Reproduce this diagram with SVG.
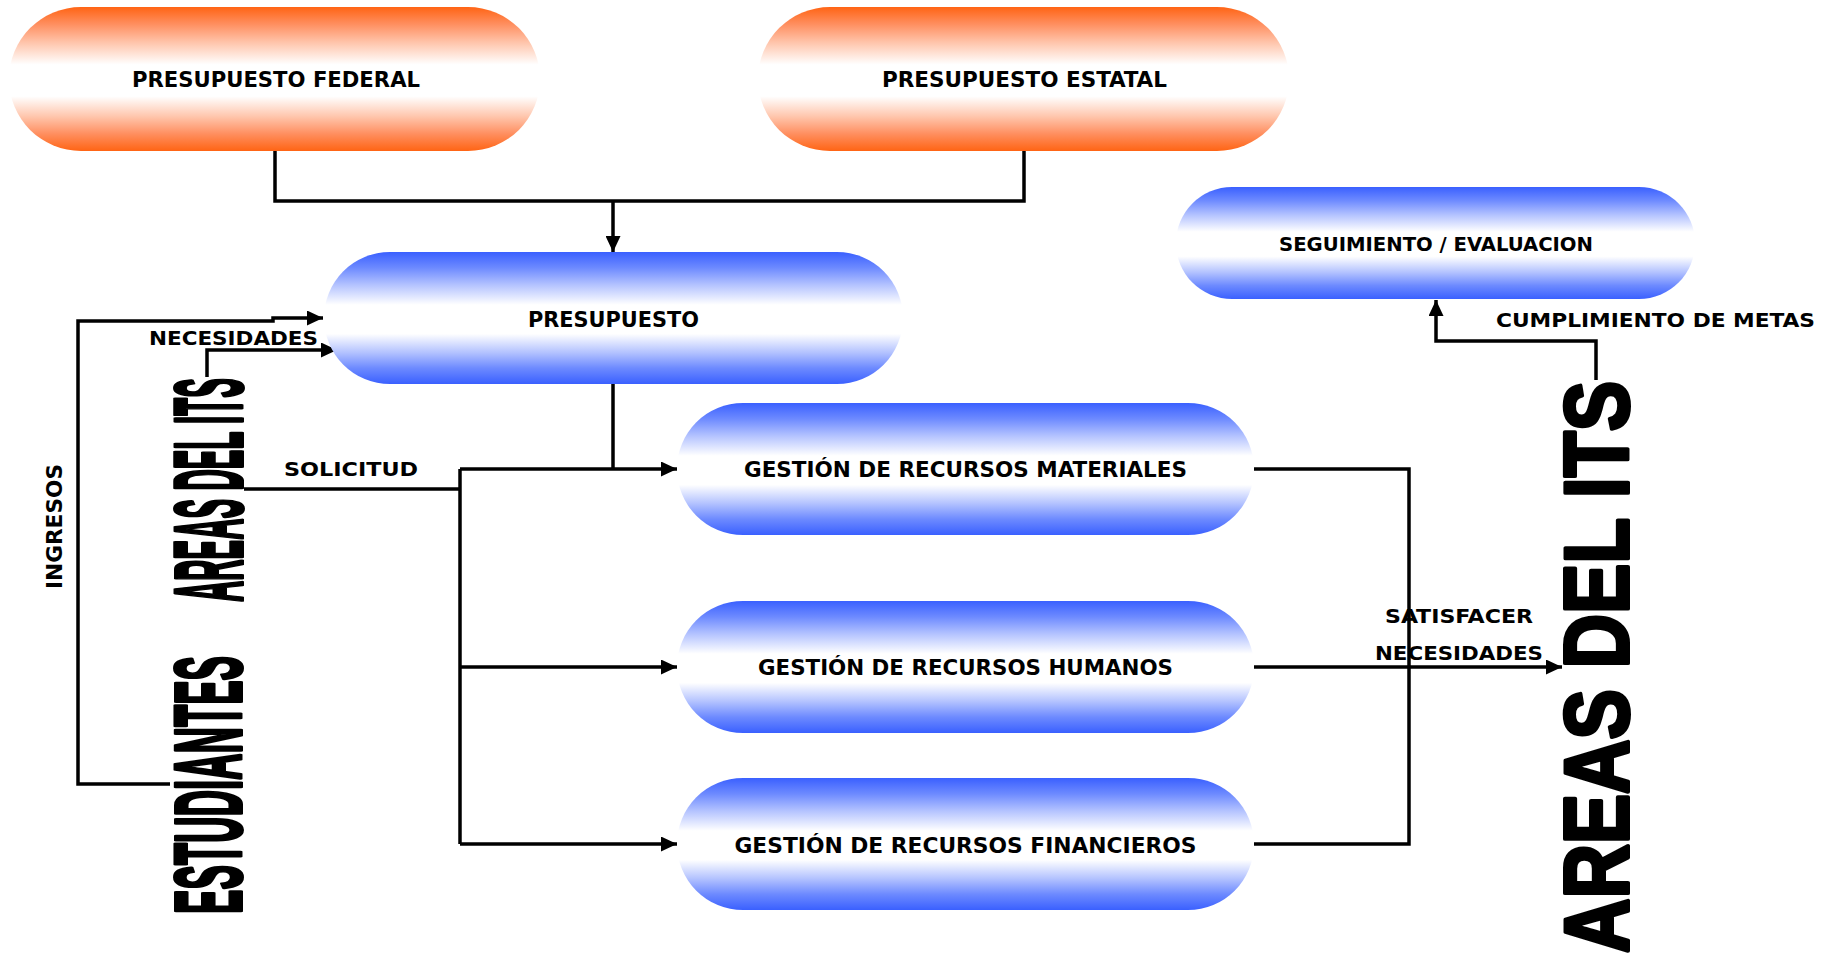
<svg xmlns="http://www.w3.org/2000/svg" width="1829" height="957" viewBox="0 0 1829 957">
<style>
.lbl{font-family:"DejaVu Sans Condensed","DejaVu Sans",sans-serif;font-weight:bold;fill:#000;}
.vlbl{font-family:"DejaVu Sans",sans-serif;font-weight:bold;fill:#000;}
.big{font-family:"Liberation Sans",Arial,sans-serif;font-weight:bold;fill:#000;stroke:#000;stroke-linejoin:round;}
.conn{fill:none;stroke:#000;stroke-width:3.5;}
</style>
<defs>
<linearGradient id="gOrange" x1="0" y1="0" x2="0" y2="1">
<stop offset="0" stop-color="#ff6414"/>
<stop offset="0.12" stop-color="#ff8f60"/>
<stop offset="0.25" stop-color="#ffc6ad"/>
<stop offset="0.4" stop-color="#ffffff"/>
<stop offset="0.62" stop-color="#ffffff"/>
<stop offset="0.76" stop-color="#ffc6ad"/>
<stop offset="0.88" stop-color="#ff8f60"/>
<stop offset="1" stop-color="#ff6414"/>
</linearGradient>
<linearGradient id="gBlue" x1="0" y1="0" x2="0" y2="1">
<stop offset="0" stop-color="#3a60ff"/>
<stop offset="0.12" stop-color="#6d8aff"/>
<stop offset="0.25" stop-color="#b4c3ff"/>
<stop offset="0.4" stop-color="#ffffff"/>
<stop offset="0.62" stop-color="#ffffff"/>
<stop offset="0.76" stop-color="#b4c3ff"/>
<stop offset="0.88" stop-color="#6d8aff"/>
<stop offset="1" stop-color="#3a60ff"/>
</linearGradient>
<marker id="arr" markerUnits="userSpaceOnUse" markerWidth="16" markerHeight="15" refX="16" refY="7.5" orient="auto">
<path d="M0,0 L16,7.5 L0,15 Z" fill="#000"/>
</marker>
</defs>

<g id="connectors">
<path class="conn" d="M275,150 V201 H1024 V150"/>
<path class="conn" d="M613,201 V252" marker-end="url(#arr)"/>
<path class="conn" d="M613,384 V469"/>
<path class="conn" d="M244,489 H460"/>
<path class="conn" d="M460,469 V844"/>
<path class="conn" d="M460,469 H677" marker-end="url(#arr)"/>
<path class="conn" d="M460,667 H677" marker-end="url(#arr)"/>
<path class="conn" d="M460,844 H677" marker-end="url(#arr)"/>
<path class="conn" d="M1254,469 H1409 V844 H1254"/>
<path class="conn" d="M1254,667 H1562" marker-end="url(#arr)"/>
<path class="conn" d="M1596,380 V341 H1436 V300" marker-end="url(#arr)"/>
<path class="conn" d="M170,784 H78 V321 H273 V318 H323" marker-end="url(#arr)"/>
<path class="conn" d="M207,377 V350 H337" marker-end="url(#arr)"/>
</g>

<g id="node-federal">
<rect x="9" y="7" width="531" height="144" rx="72" ry="72" fill="url(#gOrange)"/>
<text class="lbl" x="276" y="87" font-size="21.5" text-anchor="middle" textLength="288" lengthAdjust="spacingAndGlyphs">PRESUPUESTO FEDERAL</text>
</g>
<g id="node-estatal">
<rect x="758" y="7" width="531" height="144" rx="72" ry="72" fill="url(#gOrange)"/>
<text class="lbl" x="1024.5" y="87" font-size="21.5" text-anchor="middle" textLength="285" lengthAdjust="spacingAndGlyphs">PRESUPUESTO ESTATAL</text>
</g>
<g id="node-presupuesto">
<rect x="324" y="252" width="579" height="132" rx="66" ry="66" fill="url(#gBlue)"/>
<text class="lbl" x="613.5" y="327" font-size="21.5" text-anchor="middle" textLength="171" lengthAdjust="spacingAndGlyphs">PRESUPUESTO</text>
</g>
<g id="node-seguimiento">
<rect x="1176" y="187" width="519" height="112" rx="56" ry="56" fill="url(#gBlue)"/>
<text class="lbl" x="1436" y="251" font-size="19.7" text-anchor="middle" textLength="314" lengthAdjust="spacingAndGlyphs">SEGUIMIENTO / EVALUACION</text>
</g>
<g id="node-materiales">
<rect x="677" y="403" width="577" height="132" rx="66" ry="66" fill="url(#gBlue)"/>
<text class="lbl" x="965.5" y="477" font-size="20.6" text-anchor="middle" textLength="443" lengthAdjust="spacingAndGlyphs">GESTIÓN DE RECURSOS MATERIALES</text>
</g>
<g id="node-humanos">
<rect x="677" y="601" width="577" height="132" rx="66" ry="66" fill="url(#gBlue)"/>
<text class="lbl" x="965.5" y="675" font-size="20.6" text-anchor="middle" textLength="415" lengthAdjust="spacingAndGlyphs">GESTIÓN DE RECURSOS HUMANOS</text>
</g>
<g id="node-financieros">
<rect x="677" y="778" width="577" height="132" rx="66" ry="66" fill="url(#gBlue)"/>
<text class="lbl" x="965.5" y="853" font-size="20.6" text-anchor="middle" textLength="462" lengthAdjust="spacingAndGlyphs">GESTIÓN DE RECURSOS FINANCIEROS</text>
</g>

<g id="node-estudiantes">
<text class="big" transform="translate(240.5,914) rotate(-90)" font-size="95" stroke-width="4" textLength="258" lengthAdjust="spacingAndGlyphs">ESTUDIANTES</text>
</g>
<g id="node-areas-izq">
<text class="big" transform="translate(242,602) rotate(-90)" font-size="97" stroke-width="4" textLength="224" lengthAdjust="spacingAndGlyphs">AREAS DEL ITS</text>
</g>
<g id="node-areas-der">
<text class="big" transform="translate(1628,953) rotate(-90)" font-size="91" stroke-width="4" textLength="572" lengthAdjust="spacingAndGlyphs">AREAS DEL ITS</text>
</g>

<g id="labels">
<text class="vlbl" x="149" y="345" font-size="19.5" textLength="169" lengthAdjust="spacingAndGlyphs">NECESIDADES</text>
<text class="vlbl" x="284" y="476" font-size="20" textLength="134" lengthAdjust="spacingAndGlyphs">SOLICITUD</text>
<text class="vlbl" transform="translate(62,589) rotate(-90)" font-size="21" textLength="125" lengthAdjust="spacingAndGlyphs">INGRESOS</text>
<text class="lbl" x="1385" y="623" font-size="20" textLength="148" lengthAdjust="spacingAndGlyphs">SATISFACER</text>
<text class="lbl" x="1375" y="660" font-size="20" textLength="168" lengthAdjust="spacingAndGlyphs">NECESIDADES</text>
<text class="lbl" x="1496" y="327" font-size="20" textLength="319" lengthAdjust="spacingAndGlyphs">CUMPLIMIENTO DE METAS</text>
</g>
</svg>
